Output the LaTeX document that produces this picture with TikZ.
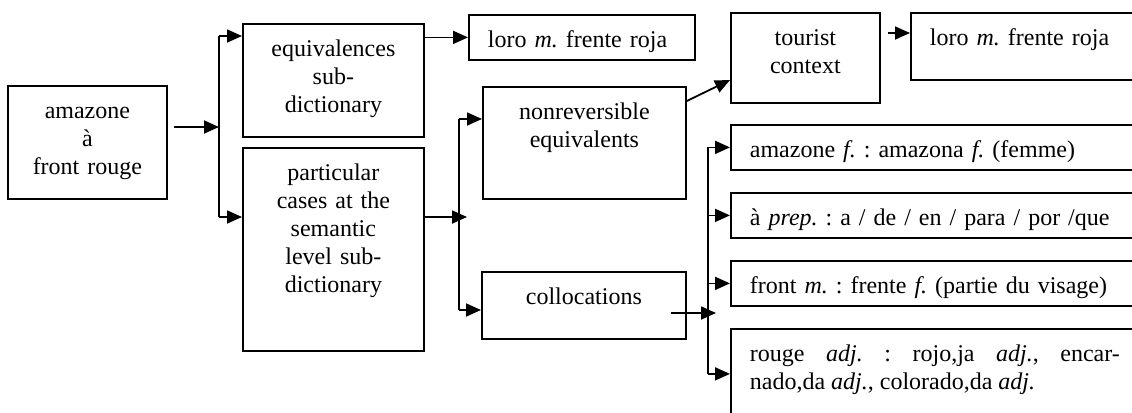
\documentclass[tikz,border=0pt]{standalone}
\usepackage{fontspec}
\setmainfont{Liberation Serif}
\usetikzlibrary{arrows.meta}
\frenchspacing

\begin{document}
\begin{tikzpicture}[x=0.5pt, y=-0.5pt,
    box/.style={draw, line width=0.9pt, anchor=north west, inner sep=0pt,
      font=\fontsize{12pt}{14pt}\selectfont, text height=16.5pt, align=center},
    lbox/.style={box, inner xsep=9.5pt, align=left},
    link/.style={line width=0.9pt},
    arr/.style={link, -{Triangle[length=7.5pt, width=6.5pt]}}]
    \clip (0,0) rectangle (1132,413);

    % Source term and the two sub-dictionaries
    \node[box, text width=79.5pt, text depth=40pt] (src) at (7,85) {amazone\\à\\front rouge};
    \node[box, text width=90.5pt, text depth=40pt] (eqv) at (242,23) {equivalences\\sub-\\dictionary};
    \node[box, text width=90.5pt, text depth=85pt] (part) at (242,147)
        {particular\\cases at the\\semantic\\level sub-\\dictionary};

    % Middle column
    \node[lbox, text width=94pt, text depth=6pt] (loroA) at (468,14) {loro \textit{m.} frente roja};
    \node[box, text width=101.5pt, text depth=39.5pt] (nonrev) at (482,86) {nonreversible\\equivalents};
    \node[box, text width=102pt, text depth=17pt] (coll) at (481,271) {collocations};
    \node[box, text width=74.5pt, text depth=28.5pt] (tour) at (730,12) {tourist\\context};

    % Right column (runs past the page edge)
    \node[lbox, text width=200pt, text depth=17pt] (loroB) at (910,12) {loro \textit{m.} frente roja};
    \node[lbox, text width=200pt, text depth=6pt] (amaz) at (730,124)
        {amazone \textit{f.} : amazona \textit{f.} (femme)};
    \node[lbox, text width=200pt, text depth=6pt] (prep) at (730,192)
        {à \textit{prep.} : a / de / en / para / por /que};
    \node[lbox, text width=200pt, text depth=6pt] (fr) at (730,260)
        {front \textit{m.} : frente \textit{f.} (partie du visage)};
    \node[lbox, text width=185pt, text depth=28.5pt, align=justify] (rg) at (730,328)
        {rouge \textit{adj.} : rojo,ja \textit{adj.}, encar-\linebreak nado,da \textit{adj.}, colorado,da \textit{adj.}};

    % Bracket 1
    \coordinate (srcout) at (174,127);
    \coordinate (b1top) at (219,36);
    \coordinate (b1bot) at (219,217);
    \draw[link] (b1top) -- (b1bot);
    \draw[arr] (srcout) -- (srcout -| b1top);
    \draw[arr] (b1top) -- (b1top -| eqv.west);
    \draw[arr] (b1bot) -- (b1bot -| part.west);
    \draw[arr] (eqv.east |- loroA.west) -- (loroA.west);

    % Bracket 2
    \coordinate (b2top) at (459,119);
    \coordinate (b2bot) at (459,310);
    \coordinate (j2) at (467,217);
    \draw[link] (b2top) -- (b2bot);
    \draw[arr] (j2 -| part.east) -- (j2);
    \draw[arr] (b2top) -- (b2top -| nonrev.west);
    \draw[arr] (b2bot) -- (b2bot -| coll.west);

    % Tourist context
    \coordinate (tin) at (730,80);
    \coordinate (tout) at (888,33);
    \draw[arr] ([yshift=-7.5pt]nonrev.north east) -- (tin);
    \draw[arr] (tout) -- (tout -| loroB.west);

    % Bracket 3
    \coordinate (collout) at (671,313);
    \coordinate (b3) at (708,147);
    \draw[arr] (collout) -- (716,313);
    \draw[link] (b3 |- amaz.west) -- (b3 |- rg.west);
    \foreach \t in {amaz,prep,fr,rg}
        \draw[arr] (b3 |- \t.west) -- (\t.west);
\end{tikzpicture}
\end{document}
